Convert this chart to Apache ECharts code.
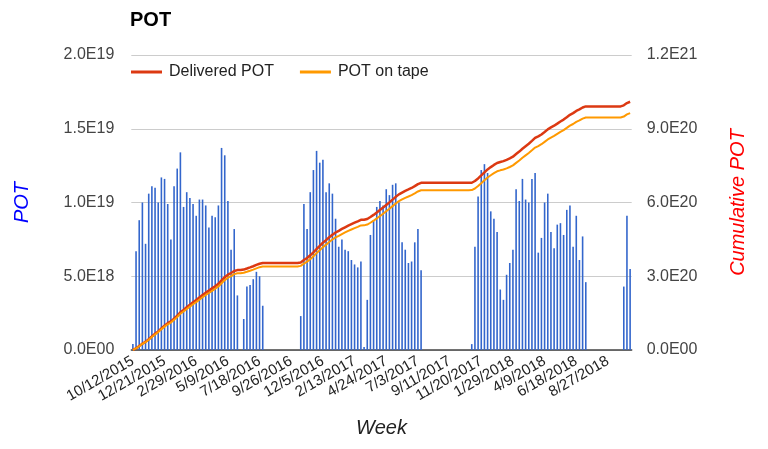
<!DOCTYPE html>
<html>
<head>
<meta charset="utf-8">
<script src="https://cdn.jsdelivr.net/npm/echarts@6/dist/echarts.min.js"></script>
<style>
html,body{margin:0;padding:0;background:#fff;}
#chart{width:768px;height:449px;}
</style>
</head>
<body>
<div id="chart"></div>
<script>
// Weekly categories
const weeks = [
'10/12/2015','10/19/2015','10/26/2015','11/2/2015','11/9/2015','11/16/2015','11/23/2015','11/30/2015','12/7/2015','12/14/2015','12/21/2015','12/28/2015',
'1/4/2016','1/11/2016','1/18/2016','1/25/2016','2/1/2016','2/8/2016','2/15/2016','2/22/2016','2/29/2016','3/7/2016','3/14/2016','3/21/2016','3/28/2016','4/4/2016','4/11/2016','4/18/2016','4/25/2016','5/2/2016','5/9/2016','5/16/2016','5/23/2016','5/30/2016','6/6/2016','6/13/2016','6/20/2016','6/27/2016','7/4/2016','7/11/2016','7/18/2016','7/25/2016','8/1/2016','8/8/2016','8/15/2016','8/22/2016','8/29/2016','9/5/2016','9/12/2016','9/19/2016','9/26/2016','10/3/2016','10/10/2016','10/17/2016','10/24/2016','10/31/2016','11/7/2016','11/14/2016','11/21/2016','11/28/2016','12/5/2016','12/12/2016','12/19/2016','12/26/2016',
'1/2/2017','1/9/2017','1/16/2017','1/23/2017','1/30/2017','2/6/2017','2/13/2017','2/20/2017','2/27/2017','3/6/2017','3/13/2017','3/20/2017','3/27/2017','4/3/2017','4/10/2017','4/17/2017','4/24/2017','5/1/2017','5/8/2017','5/15/2017','5/22/2017','5/29/2017','6/5/2017','6/12/2017','6/19/2017','6/26/2017','7/3/2017','7/10/2017','7/17/2017','7/24/2017','7/31/2017','8/7/2017','8/14/2017','8/21/2017','8/28/2017','9/4/2017','9/11/2017','9/18/2017','9/25/2017','10/2/2017','10/9/2017','10/16/2017','10/23/2017','10/30/2017','11/6/2017','11/13/2017','11/20/2017','11/27/2017','12/4/2017','12/11/2017','12/18/2017','12/25/2017',
'1/1/2018','1/8/2018','1/15/2018','1/22/2018','1/29/2018','2/5/2018','2/12/2018','2/19/2018','2/26/2018','3/5/2018','3/12/2018','3/19/2018','3/26/2018','4/2/2018','4/9/2018','4/16/2018','4/23/2018','4/30/2018','5/7/2018','5/14/2018','5/21/2018','5/28/2018','6/4/2018','6/11/2018','6/18/2018','6/25/2018','7/2/2018','7/9/2018','7/16/2018','7/23/2018','7/30/2018','8/6/2018','8/13/2018','8/20/2018','8/27/2018','9/3/2018','9/10/2018','9/17/2018','9/24/2018','10/1/2018','10/8/2018','10/15/2018'
];

// Weekly POT (units of 1E19)
const weeklyPOT = [
0.04,0.67,0.88,1.00,0.72,1.06,1.11,1.10,1.00,1.17,1.16,0.99,0.75,1.11,1.23,1.34,0.97,1.07,1.03,0.99,0.91,1.02,1.02,0.98,0.83,0.91,0.90,0.98,1.37,1.32,1.01,0.68,0.82,0.37,0,0.21,0.43,0.44,0.48,0.53,0.50,0.30,
0,0,0,0,0,0,0,0,0,0,0,
0.23,0.99,0.82,1.07,1.22,1.35,1.27,1.29,1.07,1.13,1.06,0.89,0.70,0.75,0.68,0.67,0.61,0.58,0.56,0.60,0.02,0.34,0.78,0.88,0.97,1.01,0.98,1.09,1.05,1.12,1.13,1.00,0.73,0.68,0.59,0.60,0.73,0.82,0.54,
0,0,0,0,0,0,0,0,0,0,0,0,0,0,0,
0.04,0.70,1.04,1.22,1.26,1.20,0.94,0.89,0.80,0.41,0.34,0.51,0.59,0.68,1.09,1.01,1.16,1.02,1.00,1.16,1.20,0.66,0.76,1.00,1.06,0.80,0.69,0.85,0.86,0.78,0.95,0.98,0.70,0.91,0.61,0.77,0.46,
0,0,0,0,0,0,0,0,0,0,0,
0.43,0.91,0.55
];

// Cumulative delivered POT (units of 1E20)
const deliveredPOT = [
0.004,0.071,0.159,0.259,0.331,0.437,0.548,0.658,0.758,0.875,0.991,1.090,1.165,1.276,1.399,1.533,1.630,1.737,1.840,1.939,2.030,2.132,2.234,2.332,2.415,2.506,2.596,2.694,2.831,2.963,3.064,3.132,3.214,3.251,3.251,3.272,3.315,3.359,3.407,3.460,3.510,3.540,
3.540,3.540,3.540,3.540,3.540,3.540,3.540,3.540,3.540,3.540,3.540,
3.563,3.662,3.744,3.851,3.973,4.108,4.235,4.364,4.471,4.584,4.690,4.779,4.849,4.924,4.992,5.059,5.120,5.178,5.234,5.294,5.296,5.330,5.408,5.496,5.593,5.694,5.792,5.901,6.006,6.118,6.231,6.331,6.404,6.472,6.531,6.591,6.664,6.746,6.800,
6.800,6.800,6.800,6.800,6.800,6.800,6.800,6.800,6.800,6.800,6.800,6.800,6.800,6.800,6.800,
6.804,6.874,6.978,7.100,7.226,7.346,7.440,7.529,7.609,7.650,7.684,7.735,7.794,7.862,7.971,8.072,8.188,8.290,8.390,8.506,8.626,8.692,8.768,8.868,8.974,9.054,9.123,9.208,9.294,9.372,9.467,9.565,9.635,9.726,9.787,9.864,9.910,
9.910,9.910,9.910,9.910,9.910,9.910,9.910,9.910,9.910,9.910,9.910,
9.953,10.044,10.099
];

// Cumulative POT on tape (units of 1E20)
const potOnTape = [
0.004,0.068,0.153,0.249,0.318,0.420,0.526,0.632,0.728,0.840,0.951,1.046,1.118,1.225,1.343,1.472,1.565,1.668,1.766,1.861,1.949,2.047,2.145,2.239,2.318,2.406,2.492,2.586,2.718,2.844,2.941,3.007,3.085,3.121,3.121,3.141,3.182,3.225,3.271,3.322,3.370,3.400,
3.400,3.400,3.400,3.400,3.400,3.400,3.400,3.400,3.400,3.400,3.400,
3.422,3.516,3.594,3.696,3.812,3.940,4.061,4.184,4.285,4.393,4.494,4.578,4.645,4.716,4.781,4.845,4.903,4.958,5.011,5.068,5.070,5.102,5.176,5.260,5.352,5.448,5.542,5.645,5.745,5.852,5.959,6.054,6.124,6.188,6.244,6.302,6.371,6.449,6.500,
6.500,6.500,6.500,6.500,6.500,6.500,6.500,6.500,6.500,6.500,6.500,6.500,6.500,6.500,6.500,
6.504,6.570,6.669,6.785,6.905,7.019,7.108,7.193,7.269,7.308,7.340,7.388,7.444,7.509,7.612,7.708,7.819,7.916,8.011,8.121,8.235,8.297,8.370,8.465,8.565,8.641,8.707,8.788,8.869,8.943,9.034,9.127,9.193,9.280,9.338,9.411,9.455,
9.455,9.455,9.455,9.455,9.455,9.455,9.455,9.455,9.455,9.455,9.455,
9.496,9.582,9.634
];

// Tick labels
const leftTickLabels = ['0.0E00','5.0E18','1.0E19','1.5E19','2.0E19'];
const rightTickLabels = ['0.0E00','3.0E20','6.0E20','9.0E20','1.2E21'];

const FONT = 'Arial, "Liberation Sans", sans-serif';
const chart = echarts.init(document.getElementById('chart'), null, {renderer: 'canvas'});

chart.setOption({
  animation: false,
  backgroundColor: '#ffffff',
  textStyle: {fontFamily: FONT},
  title: {
    text: 'POT',
    left: 130,
    top: 10,
    padding: 0,
    textStyle: {fontFamily: FONT, fontSize: 20, fontWeight: 'bold', color: '#000000'}
  },
  legend: {
    left: 131,
    top: 63,
    padding: 0,
    itemWidth: 31,
    itemHeight: 3,
    itemGap: 26,
    icon: 'rect',
    textStyle: {fontFamily: FONT, fontSize: 16, color: '#222222', padding: [0, 0, 0, 2], lineHeight: 18},
    data: ['Delivered POT', 'POT on tape']
  },
  grid: {left: 131.3, right: 136.3, top: 55, bottom: 99, containLabel: false},
  xAxis: {
    type: 'category',
    data: weeks,
    boundaryGap: true,
    name: 'Week',
    nameLocation: 'middle',
    nameGap: 68,
    nameTextStyle: {fontFamily: FONT, fontSize: 20, fontStyle: 'italic', color: '#222222'},
    axisTick: {show: false},
    axisLine: {show: true, onZero: false, lineStyle: {color: '#444444', width: 1.5}},
    axisLabel: {
      interval: 9,
      rotate: 30,
      margin: 10,
      fontFamily: FONT,
      fontSize: 15,
      color: '#222222'
    },
    splitLine: {show: false}
  },
  yAxis: [
    {
      type: 'value',
      min: 0, max: 2, interval: 0.5,
      name: 'POT',
      nameLocation: 'middle',
      nameRotate: 90,
      nameGap: 99,
      nameTextStyle: {fontFamily: FONT, fontSize: 20, fontStyle: 'italic', color: '#0000ff'},
      axisLine: {show: false},
      axisTick: {show: false},
      axisLabel: {
        margin: 17,
        fontFamily: FONT, fontSize: 16, color: '#444444',
        formatter: function (v) { return leftTickLabels[Math.round(v / 0.5)]; }
      },
      splitLine: {show: true, lineStyle: {color: '#cccccc', width: 1}}
    },
    {
      type: 'value',
      min: 0, max: 12, interval: 3,
      position: 'right',
      name: 'Cumulative POT',
      nameLocation: 'middle',
      nameRotate: 90,
      nameGap: 97,
      nameTextStyle: {fontFamily: FONT, fontSize: 20, fontStyle: 'italic', color: '#ff0000'},
      axisLine: {show: false},
      axisTick: {show: false},
      axisLabel: {
        margin: 15,
        fontFamily: FONT, fontSize: 16, color: '#444444',
        formatter: function (v) { return rightTickLabels[Math.round(v / 3)]; }
      },
      splitLine: {show: false}
    }
  ],
  series: [
    {
      name: 'Weekly POT',
      type: 'bar',
      data: weeklyPOT,
      yAxisIndex: 0,
      barWidth: 1.6,
      itemStyle: {color: '#3366cc'},
      z: 2
    },
    {
      name: 'Delivered POT',
      type: 'line',
      data: deliveredPOT,
      yAxisIndex: 1,
      showSymbol: false,
      symbol: 'none',
      lineStyle: {color: '#dc3912', width: 2.5},
      itemStyle: {color: '#dc3912'},
      z: 3
    },
    {
      name: 'POT on tape',
      type: 'line',
      data: potOnTape,
      yAxisIndex: 1,
      showSymbol: false,
      symbol: 'none',
      lineStyle: {color: '#ff9900', width: 2},
      itemStyle: {color: '#ff9900'},
      z: 4
    }
  ]
});
</script>
</body>
</html>
